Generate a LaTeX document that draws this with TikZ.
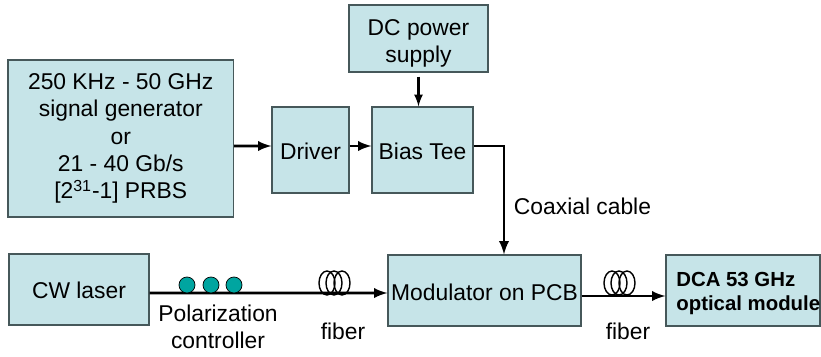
\documentclass[tikz,border=0pt]{standalone}
\usepackage{fontspec}
\setmainfont{Liberation Sans}
\usetikzlibrary{shapes.geometric,arrows}
\definecolor{boxfill}{RGB}{198,228,232}
\definecolor{boxedge}{RGB}{70,88,90}
\definecolor{ballfill}{RGB}{0,165,160}

\begin{document}
\begin{tikzpicture}[>=latex,draw=black!100]

	\tikzstyle{box}=[draw=boxedge,fill=boxfill,line width=0.7pt,align=center,inner sep=0pt,font=\fontsize{13}{15.6}\selectfont]
	\tikzstyle{annot}=[align=center,inner sep=0pt,font=\fontsize{13}{15.4}\selectfont]
	\tikzstyle{ball}=[circle,draw=black,fill=ballfill,line width=0.4pt,inner sep=0pt,minimum size=0.32cm]
	\tikzstyle{coil}=[ellipse,draw=black,line width=0.8pt,inner sep=0pt,minimum width=0.32cm,minimum height=0.48cm]
	\tikzstyle{link}=[->,line width=1.6pt]
	\useasboundingbox (0cm,0cm) rectangle (16.42cm,7.12cm);

	% upper row
	\node[box,minimum width=4.51cm,minimum height=3.14cm] (siggen) at (2.415cm,4.35cm) {250 KHz - 50 GHz\\signal generator\\or\\21 - 40 Gb/s\\{[}2\textsuperscript{31}-1] PRBS};
	\node[box,minimum width=1.54cm,minimum height=1.72cm] (driver) at (6.21cm,4.12cm) {};
	\node[annot] (driverlabel) at (6.21cm,4.1cm) {Driver};
	\node[box,minimum width=2.02cm,minimum height=1.72cm] (biastee) at (8.45cm,4.12cm) {};
	\node[annot] (biaslabel) at (8.45cm,4.1cm) {Bias Tee};
	\node[box,minimum width=2.78cm,minimum height=1.34cm] (dcsupply) at (8.37cm,6.35cm) {};
	\node[annot] (dclabel) at (8.37cm,6.26cm) {DC power\\supply};

	% lower row
	\node[box,minimum width=2.8cm,minimum height=1.42cm] (cwlaser) at (1.58cm,1.33cm) {};
	\node[annot] (cwlabel) at (1.58cm,1.31cm) {CW laser};
	\node[box,minimum width=3.86cm,minimum height=1.42cm] (modulator) at (9.69cm,1.31cm) {};
	\node[annot] (modlabel) at (9.69cm,1.28cm) {Modulator on PCB};
	\node[box,minimum width=3.08cm,minimum height=1.42cm] (dca) at (14.86cm,1.31cm) {};
	\node[annot,align=left,anchor=west,font=\fontsize{11.6}{14}\selectfont\bfseries] (dcalabel) at (13.52cm,1.25cm) {DCA 53 GHz\\optical module};

	% connectors
	\draw[link] ([yshift=-0.15cm]siggen.east) -- ([yshift=0.08cm]driver.west);
	\draw[link] ([yshift=0.08cm]driver.east) -- ([yshift=0.08cm]biastee.west);
	\draw[->,line width=1.3pt,shorten <=0.08cm] (dcsupply.south) -- (dcsupply.south |- biastee.north);
	\draw[link] ([yshift=0.08cm]biastee.east) -| ([xshift=0.39cm]modulator.north);
	\draw[link] ([yshift=-0.07cm]cwlaser.east) -- ([yshift=-0.05cm]modulator.west);
	\draw[link] ([yshift=-0.11cm]modulator.east) -- ([yshift=-0.11cm]dca.west);

	% polarization controller
	\node[ball] (ball0) at (3.74cm,1.42cm) {};
	\node[ball] (ball1) at (4.22cm,1.42cm) {};
	\node[ball] (ball2) at (4.68cm,1.42cm) {};

	% fiber coils
	\node[coil] (coil0) at (6.54cm,1.46cm) {};
	\node[coil] (coil1) at (6.68cm,1.46cm) {};
	\node[coil] (coil2) at (6.84cm,1.46cm) {};
	\node[coil] (coil3) at (12.24cm,1.46cm) {};
	\node[coil] (coil4) at (12.38cm,1.46cm) {};
	\node[coil] (coil5) at (12.54cm,1.46cm) {};

	% labels
	\node[annot] (pollabel) at (4.36cm,0.59cm) {Polarization\\controller};
	\node[annot] (fiberlabel0) at (6.86cm,0.5cm) {fiber};
	\node[annot] (fiberlabel1) at (12.56cm,0.5cm) {fiber};
	\node[annot] (coaxlabel) at (11.65cm,3cm) {Coaxial cable};
\end{tikzpicture}
\end{document}
